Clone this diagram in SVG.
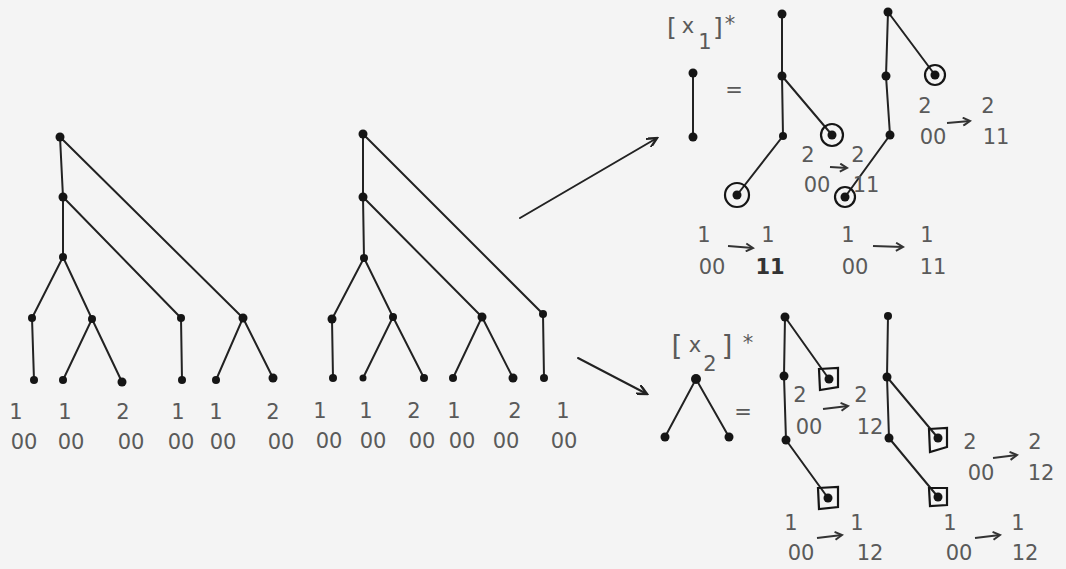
<svg xmlns="http://www.w3.org/2000/svg" width="1066" height="569" viewBox="0 0 1066 569">
<style>
.e{stroke:#222;stroke-width:2;fill:none;stroke-linecap:round}
.n{fill:#151515}
.ring{stroke:#151515;stroke-width:2.2;fill:none}
.t{font-family:"DejaVu Sans",sans-serif;font-size:21px;fill:#5a5a5a;text-anchor:middle}
.b{font-family:"DejaVu Sans",sans-serif;font-weight:bold;fill:#333}
.br{font-family:"DejaVu Sans",sans-serif;fill:#5a5a5a;text-anchor:middle}
.sa{stroke:#333;stroke-width:2;fill:none}
</style>
<defs>
<marker id="head" markerWidth="12" markerHeight="10" refX="10" refY="5" orient="auto" markerUnits="userSpaceOnUse">
<path d="M0,0 L10,5 L0,10" fill="none" stroke="#222" stroke-width="2.4"/>
</marker>
<marker id="shead" markerWidth="10" markerHeight="10" refX="8" refY="5" orient="auto" markerUnits="userSpaceOnUse">
<path d="M1,1 L8,5 L1,9" fill="none" stroke="#333" stroke-width="2"/>
</marker>
</defs>
<rect width="1066" height="569" fill="#f4f4f4"/>

<g id="connectors">
<path class="e" d="M60,137 L63,197 L63,257 L32,318 L34,380"/>
<path class="e" d="M60,137 L243,318 L216,380"/>
<path class="e" d="M243,318 L273,378"/>
<path class="e" d="M63,197 L181,318 L182,380"/>
<path class="e" d="M63,257 L92,319 L63,380"/>
<path class="e" d="M92,319 L122,382"/>
<path class="e" d="M363,134 L363,197 L364,258 L332,319 L333,378"/>
<path class="e" d="M363,134 L543,314 L544,378"/>
<path class="e" d="M363,197 L482,317 L453,378"/>
<path class="e" d="M482,317 L513,378"/>
<path class="e" d="M364,258 L393,317 L363,378"/>
<path class="e" d="M393,317 L424,378"/>
<line class="e" x1="520" y1="218" x2="657" y2="138" marker-end="url(#head)"/>
<line class="e" x1="578" y1="358" x2="647" y2="394" marker-end="url(#head)"/>
<line class="e" x1="693" y1="73" x2="693" y2="137"/>
<path class="e" d="M782,14 L782,76 L783,136 L737,195"/>
<line class="e" x1="782" y1="76" x2="832" y2="135"/>
<path class="e" d="M888,12 L886,76 L890,135 L845,197"/>
<line class="e" x1="888" y1="12" x2="935" y2="75"/>
<path class="e" d="M665,437 L696,379 L729,437"/>
<path class="e" d="M785,317 L784,376 L786,440 L828,498"/>
<line class="e" x1="785" y1="317" x2="829" y2="379"/>
<path class="e" d="M888,316 L887,377 L889,438 L938,497"/>
<line class="e" x1="887" y1="377" x2="938" y2="438"/>
<line class="sa" x1="830" y1="167" x2="847" y2="168" marker-end="url(#shead)"/>
<line class="sa" x1="947" y1="123" x2="970" y2="121" marker-end="url(#shead)"/>
<line class="sa" x1="728" y1="246" x2="753" y2="248" marker-end="url(#shead)"/>
<line class="sa" x1="873" y1="246" x2="903" y2="247" marker-end="url(#shead)"/>
<line class="sa" x1="823" y1="409" x2="848" y2="406" marker-end="url(#shead)"/>
<line class="sa" x1="993" y1="458" x2="1017" y2="455" marker-end="url(#shead)"/>
<line class="sa" x1="817" y1="538" x2="842" y2="535" marker-end="url(#shead)"/>
<line class="sa" x1="975" y1="538" x2="1000" y2="535" marker-end="url(#shead)"/>
</g>

<g id="tree-left">
<circle id="L0" class="n" cx="60" cy="137" r="4.5"/>
<circle id="L1" class="n" cx="63" cy="197" r="4.5"/>
<circle id="L2" class="n" cx="63" cy="257" r="4"/>
<circle id="L3" class="n" cx="32" cy="318" r="4"/>
<circle id="L4" class="n" cx="92" cy="319" r="4"/>
<circle id="L5" class="n" cx="181" cy="318" r="4"/>
<circle id="L6" class="n" cx="243" cy="318" r="4.5"/>
<circle id="L7" class="n" cx="34" cy="380" r="4"/>
<circle id="L8" class="n" cx="63" cy="380" r="4"/>
<circle id="L9" class="n" cx="122" cy="382" r="4.5"/>
<circle id="L10" class="n" cx="182" cy="380" r="4"/>
<circle id="L11" class="n" cx="216" cy="380" r="4"/>
<circle id="L12" class="n" cx="273" cy="378" r="4.5"/>
</g>
<g id="labels-left" class="t">
<text x="16" y="419">1</text><text x="65" y="419">1</text><text x="123" y="419">2</text>
<text x="178" y="419">1</text><text x="216" y="419">1</text><text x="273" y="419">2</text>
<text x="24" y="449">00</text><text x="71" y="449">00</text><text x="131" y="449">00</text>
<text x="181" y="449">00</text><text x="223" y="449">00</text><text x="281" y="449">00</text>
</g>

<g id="tree-middle">
<circle id="M0" class="n" cx="363" cy="134" r="4.5"/>
<circle id="M1" class="n" cx="363" cy="197" r="4.5"/>
<circle id="M2" class="n" cx="364" cy="258" r="4"/>
<circle id="M3" class="n" cx="332" cy="319" r="4.5"/>
<circle id="M4" class="n" cx="393" cy="317" r="4"/>
<circle id="M5" class="n" cx="482" cy="317" r="4.5"/>
<circle id="M6" class="n" cx="543" cy="314" r="4"/>
<circle id="M7" class="n" cx="333" cy="378" r="4"/>
<circle id="M8" class="n" cx="363" cy="378" r="3.5"/>
<circle id="M9" class="n" cx="424" cy="378" r="4"/>
<circle id="M10" class="n" cx="453" cy="378" r="4"/>
<circle id="M11" class="n" cx="513" cy="378" r="4.5"/>
<circle id="M12" class="n" cx="544" cy="378" r="4"/>
</g>
<g id="labels-middle" class="t">
<text x="320" y="418">1</text><text x="366" y="418">1</text><text x="414" y="418">2</text>
<text x="454" y="418">1</text><text x="515" y="418">2</text><text x="563" y="418">1</text>
<text x="329" y="448">00</text><text x="373" y="448">00</text><text x="422" y="448">00</text>
<text x="462" y="448">00</text><text x="506" y="448">00</text><text x="564" y="448">00</text>
</g>

<g id="x1-label">
<text class="br" x="672" y="36" font-size="25">[</text>
<text class="t" x="688" y="33">x</text>
<text class="t" x="705" y="49">1</text>
<text class="br" x="718" y="36" font-size="25">]</text>
<text class="t" x="730" y="31">*</text>
</g>
<g id="x1-tree">
<circle class="n" cx="693" cy="73" r="4.5"/>
<circle class="n" cx="693" cy="137" r="4.5"/>
</g>
<text class="t" x="734" y="97">=</text>

<g id="tree-A">
<circle class="n" cx="782" cy="14" r="4.5"/>
<circle class="n" cx="782" cy="76" r="4.5"/>
<circle class="n" cx="783" cy="136" r="4"/>
<circle class="ring" cx="832" cy="135" r="11"/><circle class="n" cx="832" cy="135" r="4.5"/>
<circle class="ring" cx="737" cy="195" r="12"/><circle class="n" cx="737" cy="195" r="4.5"/>
</g>
<g id="tree-B">
<circle class="n" cx="888" cy="12" r="4.5"/>
<circle class="n" cx="886" cy="76" r="4.5"/>
<circle class="n" cx="890" cy="135" r="4.5"/>
<circle class="ring" cx="935" cy="75" r="10"/><circle class="n" cx="935" cy="75" r="4.5"/>
<circle class="ring" cx="845" cy="197" r="10"/><circle class="n" cx="845" cy="197" r="4.5"/>
</g>
<g id="labels-x1" class="t">
<text x="808" y="162">2</text><text x="858" y="162">2</text>
<text x="817" y="192">00</text><text x="866" y="192">11</text>
<text x="925" y="113">2</text><text x="988" y="113">2</text>
<text x="933" y="144">00</text><text x="996" y="144">11</text>
<text x="704" y="242">1</text><text x="768" y="242">1</text>
<text x="712" y="274">00</text><text x="770" y="274" class="b">11</text>
<text x="848" y="242">1</text><text x="927" y="242">1</text>
<text x="855" y="274">00</text><text x="933" y="274">11</text>
</g>

<g id="x2-label">
<text class="br" x="677" y="356" font-size="28">[</text>
<text class="t" x="695" y="352">x</text>
<text class="t" x="710" y="371">2</text>
<text class="br" x="727" y="356" font-size="28">]</text>
<text class="t" x="748" y="350">*</text>
</g>
<g id="x2-tree">
<circle class="n" cx="696" cy="379" r="5"/>
<circle class="n" cx="665" cy="437" r="4.5"/>
<circle class="n" cx="729" cy="437" r="4.5"/>
</g>
<text class="t" x="743" y="419">=</text>

<g id="tree-C">
<circle class="n" cx="785" cy="317" r="4.5"/>
<circle class="n" cx="784" cy="376" r="4.5"/>
<circle class="n" cx="786" cy="440" r="4.5"/>
<path class="ring" d="M819,369 L838,368 L838,387 L820,390 Z"/><circle class="n" cx="829" cy="379" r="4.5"/>
<path class="ring" d="M818,488 L838,487 L838,507 L819,509 Z"/><circle class="n" cx="828" cy="498" r="4.5"/>
</g>
<g id="tree-D">
<circle class="n" cx="888" cy="316" r="4"/>
<circle class="n" cx="887" cy="377" r="4.5"/>
<circle class="n" cx="889" cy="438" r="4.5"/>
<path class="ring" d="M929,429 L947,428 L947,447 L930,452 Z"/><circle class="n" cx="938" cy="438" r="4.5"/>
<path class="ring" d="M929,488 L947,488 L947,505 L930,506 Z"/><circle class="n" cx="938" cy="497" r="4.5"/>
</g>
<g id="labels-x2" class="t">
<text x="800" y="402">2</text><text x="861" y="402">2</text>
<text x="809" y="434">00</text><text x="870" y="434">12</text>
<text x="970" y="449">2</text><text x="1035" y="449">2</text>
<text x="981" y="480">00</text><text x="1041" y="480">12</text>
<text x="791" y="530">1</text><text x="857" y="530">1</text>
<text x="801" y="560">00</text><text x="870" y="560">12</text>
<text x="950" y="530">1</text><text x="1018" y="530">1</text>
<text x="959" y="560">00</text><text x="1025" y="560">12</text>
</g>
</svg>
